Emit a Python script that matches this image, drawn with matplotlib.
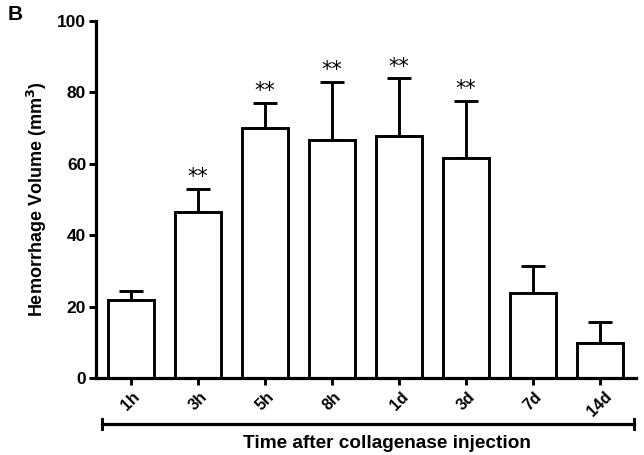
import numpy as np
import matplotlib.pyplot as plt
from matplotlib.lines import Line2D

plt.rcParams['font.family'] = ['Liberation Sans', 'DejaVu Sans']
plt.rcParams['font.weight'] = 'bold'

# data
groups = ['1h', '3h', '5h', '8h', '1d', '3d', '7d', '14d']
volume = [21.8, 46.5, 70.0, 66.7, 67.9, 61.6, 23.7, 9.7]
upper_err = [2.6, 6.5, 7.0, 16.3, 16.0, 16.1, 7.7, 5.9]
signif = ['', '**', '**', '**', '**', '**', '', '']

fig = plt.figure(figsize=(6.44, 4.55), dpi=100)
ax = fig.add_axes([0.149, 0.169, 0.839, 0.785])

lw = 2.1
x = np.arange(len(groups))
ax.bar(x, volume, width=0.69, color='white', edgecolor='black', linewidth=lw, zorder=2)
ax.errorbar(x, volume, yerr=[np.zeros(len(x)), upper_err], fmt='none',
            ecolor='black', elinewidth=lw, capsize=8.5, capthick=lw, zorder=1)

for xi, v, e, s in zip(x, volume, upper_err, signif):
    if s:
        ax.text(xi, v + e + 0.5, s, ha='center', va='bottom', fontsize=15,
                fontweight='normal', family='DejaVu Sans')

ax.set_xlim(-0.52, 7.54)
ax.set_ylim(0, 100)
ax.set_yticks([0, 20, 40, 60, 80, 100])
ax.set_xticks(x)
ax.set_xticklabels(groups, rotation=45, ha='center', va='top', fontsize=11.5)
ax.tick_params(axis='y', labelsize=12.5, width=lw, length=5, pad=2)
ax.tick_params(axis='x', width=lw, length=5, pad=3)
ax.spines['top'].set_visible(False)
ax.spines['right'].set_visible(False)
ax.spines['left'].set_linewidth(lw + 0.2)
ax.spines['bottom'].set_linewidth(lw + 0.2)
ax.set_ylabel('Hemorrhage Volume (mm$^\\mathbf{3}$)', fontsize=13, fontweight='bold',
              labelpad=6)

# bracket under the x axis
yb = 1 - 424 / 455
fig.add_artist(Line2D([102 / 644, 634 / 644], [yb, yb], color='black', lw=lw + 0.2))
for xb in (102 / 644, 634 / 644):
    fig.add_artist(Line2D([xb, xb], [yb - 0.012, yb + 0.012], color='black', lw=lw))
fig.text(387 / 644, 1 - 443 / 455, 'Time after collagenase injection', ha='center',
         va='center', fontsize=13.7, fontweight='bold')
fig.text(8 / 644, 1 - 14 / 455, 'B', ha='left', va='center', fontsize=15, fontweight='bold')

fig.savefig('out.png', dpi=100)
